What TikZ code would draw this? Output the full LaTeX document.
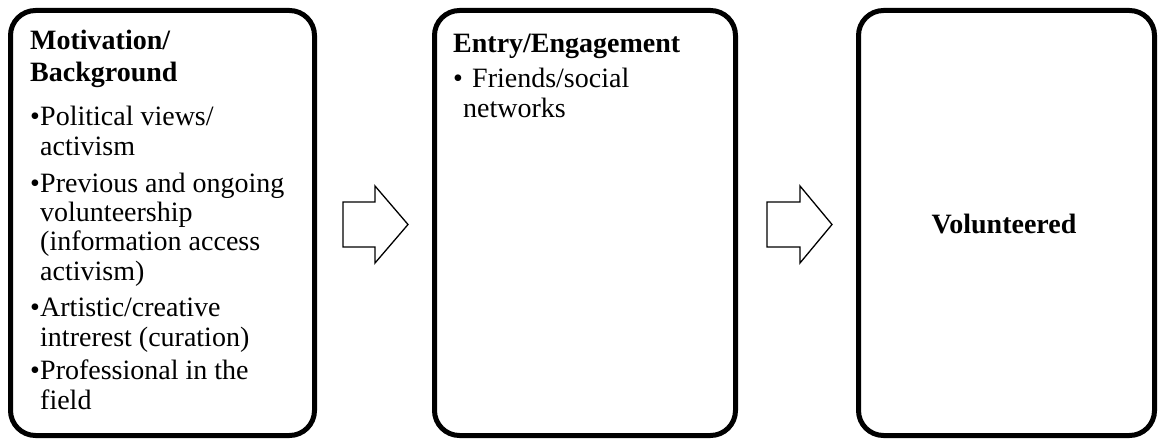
\documentclass[tikz,border=0pt]{standalone}
\usepackage{fontspec}
\setmainfont{Liberation Serif}
\begin{document}
\begin{tikzpicture}[x=1pt,y=1pt,
  stage/.style={draw, line width=5pt, rounded corners=25pt, minimum height=425pt, inner sep=0pt},
  txt/.style={anchor=base west, inner sep=0pt, font=\fontsize{28}{29.2}\selectfont, align=left},
  ttl/.style={anchor=base west, inner sep=0pt, font=\fontsize{28}{32}\selectfont\bfseries, align=left},
  blockarrow/.style={draw, line width=1.3pt, fill=white, line join=miter}]
\useasboundingbox (0,0) rectangle (1158,440);
% boxes
\node[stage, minimum width=304pt] (box1) at (162.5,217) {};
\node[stage, minimum width=301pt] (box2) at (585,217) {};
\node[stage, minimum width=296pt] (box3) at (1006.5,217) {};
% box 1 text (anchored at the baseline of the last line)
\node[ttl] (t1) at (30,358) {Motivation/\\Background};
\node[txt] (b11) at (30,285) {\makebox[10pt][l]{\textbullet}Political views/\\\hspace*{10pt}activism};
\node[txt] (b12) at (30,160) {\makebox[10pt][l]{\textbullet}Previous and ongoing\\\hspace*{10pt}volunteership\\\hspace*{10pt}(information access\\\hspace*{10pt}activism)};
\node[txt] (b13) at (30,94) {\makebox[10pt][l]{\textbullet}Artistic/creative\\\hspace*{10pt}intrerest (curation)};
\node[txt] (b14) at (30,31) {\makebox[10pt][l]{\textbullet}Professional in the\\\hspace*{10pt}field};
% box 2 text
\node[ttl] (t2) at (453,387) {Entry/Engagement};
\node[txt] (b21) at (453,323) {\makebox[19pt][l]{\textbullet}Friends/social\\\hspace*{10pt}networks};
% box 3 text
\node[ttl, anchor=base] (t3) at (1004,207) {Volunteered};
% block arrows
\draw[blockarrow] (343,193) -- (343,238) -- (375,238) -- (375,254) -- (408,215.5) -- (375,177) -- (375,193) -- cycle;
\draw[blockarrow] (767,193) -- (767,238) -- (800,238) -- (800,254) -- (832,215.5) -- (800,177) -- (800,193) -- cycle;
\end{tikzpicture}
\end{document}
